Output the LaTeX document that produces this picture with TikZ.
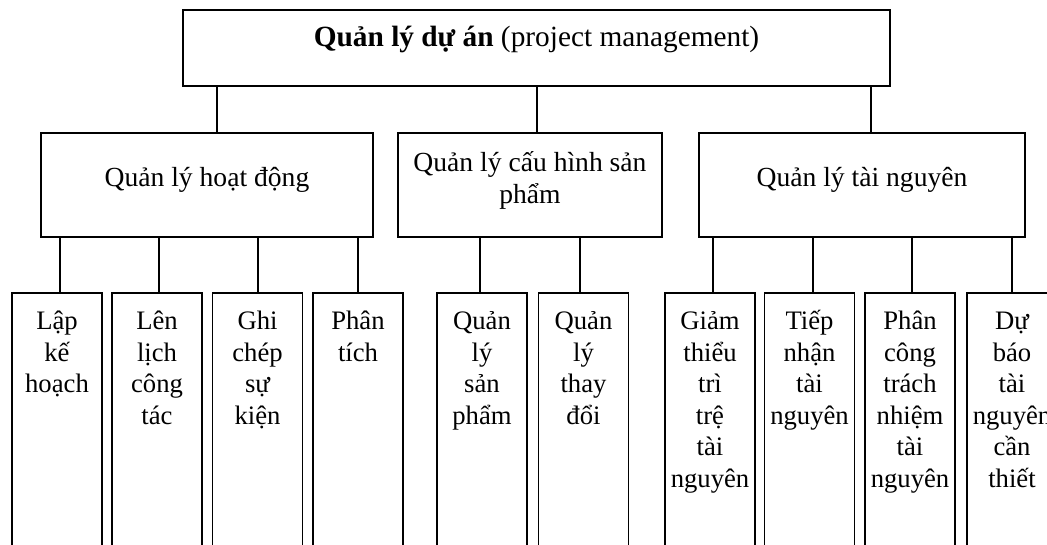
\documentclass[tikz,border=0pt]{standalone}
\usepackage{fontspec}
\setmainfont{Liberation Serif}
\lineskiplimit=-100pt

\newcommand{\tasktext}[1]{\parbox[c][201pt][t]{67.5pt}{\centering\rule{0pt}{27.5pt}#1}}
\newcommand{\grouptext}[2]{\parbox[c][78pt][c]{#1}{\centering #2\par\vspace{7.5pt}}}

\begin{document}
\begin{tikzpicture}[x=0.75pt,y=-0.75pt]

% definitions
\tikzstyle{project} = [rectangle, draw=black, line width=1.2pt, inner sep=0pt, font=\fontsize{22}{24}\selectfont]

\tikzstyle{group} = [rectangle, draw=black, line width=1.2pt, inner sep=0pt, font=\fontsize{20.7}{24}\selectfont]

\tikzstyle{task} = [rectangle, draw=black, line width=1.2pt, inner sep=0pt, anchor=north, font=\fontsize{20}{23.7}\selectfont]

\tikzstyle{link} = [line width=1pt]

\clip (0,0) rectangle (1047,544);

% the tree
\node (pm) [project] at (536.5,48) {\parbox[c][57pt][c]{530.25pt}{\centering\textbf{Quản lý dự án} (project management)\par\vspace{13.5pt}}};

\node (qa) [group] at (207,185) {\grouptext{249pt}{Quản lý hoạt động}};

\node (qb) [group] at (530,185) {\grouptext{198pt}{Quản lý cấu hình sản\\phẩm}};

\node (qc) [group] at (862,185) {\grouptext{244.5pt}{Quản lý tài nguyên}};

\node (t1) [task] at (57,292) {\tasktext{Lập\\kế\\hoạch}};
\node (t2) [task] at (157,292) {\tasktext{Lên\\lịch\\công\\tác}};
\node (t3) [task] at (257.5,292) {\tasktext{Ghi\\chép\\sự\\kiện}};
\node (t4) [task] at (358,292) {\tasktext{Phân\\tích}};

\node (t5) [task] at (482,292) {\tasktext{Quản\\lý\\sản\\phẩm}};
\node (t6) [task] at (583.5,292) {\tasktext{Quản\\lý\\thay\\đổi}};

\node (t7) [task] at (710,292) {\tasktext{Giảm\\thiểu\\trì\\trệ\\tài\\nguyên}};
\node (t8) [task] at (809.5,292) {\tasktext{Tiếp\\nhận\\tài\\nguyên}};
\node (t9) [task] at (910,292) {\tasktext{Phân\\công\\trách\\nhiệm\\tài\\nguyên}};
\node (t10) [task] at (1012,292) {\tasktext{Dự\\báo\\tài\\nguyên\\cần\\thiết}};

\draw [link] ([xshift=7.5pt]qa.north) -- ([xshift=7.5pt]qa.north |- pm.south);
\draw [link] ([xshift=5.25pt]qb.north) -- ([xshift=5.25pt]qb.north |- pm.south);
\draw [link] ([xshift=6.75pt]qc.north) -- ([xshift=6.75pt]qc.north |- pm.south);

\draw [link] ([xshift=2.25pt]t1.north) -- ([xshift=2.25pt]t1.north |- qa.south);
\draw [link] ([xshift=1.5pt]t2.north) -- ([xshift=1.5pt]t2.north |- qa.south);
\draw [link] ([xshift=0.4pt]t3.north) -- ([xshift=0.4pt]t3.north |- qa.south);
\draw [link] (t4.north) -- (t4.north |- qa.south);
\draw [link] ([xshift=-1.5pt]t5.north) -- ([xshift=-1.5pt]t5.north |- qb.south);
\draw [link] ([xshift=-2.6pt]t6.north) -- ([xshift=-2.6pt]t6.north |- qb.south);
\draw [link] ([xshift=2.25pt]t7.north) -- ([xshift=2.25pt]t7.north |- qc.south);
\draw [link] ([xshift=2.6pt]t8.north) -- ([xshift=2.6pt]t8.north |- qc.south);
\draw [link] ([xshift=1.5pt]t9.north) -- ([xshift=1.5pt]t9.north |- qc.south);
\draw [link] (t10.north) -- (t10.north |- qc.south);

\end{tikzpicture}
\end{document}
